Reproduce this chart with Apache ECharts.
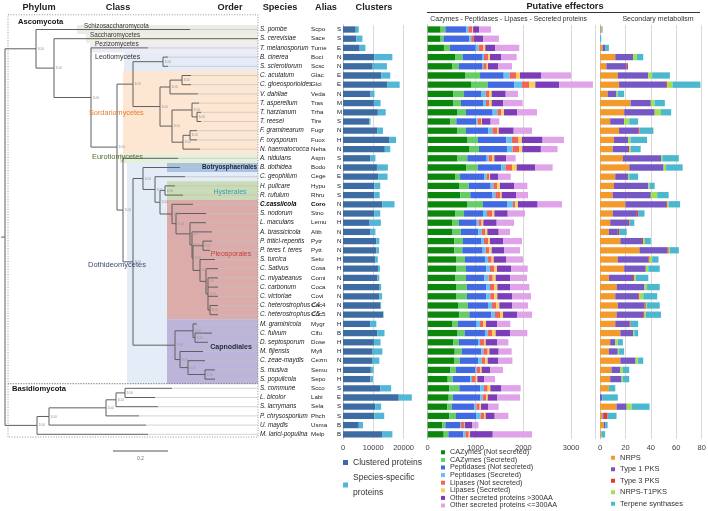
<!DOCTYPE html>
<html><head><meta charset="utf-8">
<script src="https://cdn.jsdelivr.net/npm/echarts@6/dist/echarts.min.js"></script>
<style>html,body{margin:0;padding:0;background:#fff}#c{width:708px;height:511px}</style>
</head><body><div id="c"></div>
<script>
// ---------------- data ----------------
const species = ['S. pombe','S. cerevisiae','T. melanosporum','B. cinerea','S. sclerotiorum','C. acutatum','C. gloeosporioides','V. dahliae','T. asperellum','T. harzianum','T. reesei','F. graminearum','F. oxysporum','N. haematococca','A. nidulans','B. dothidea','C. geophilum','H. pulicare','R. rufulum','C.cassiicola','S. nodorum','L. maculans','A. brassicicola','P. tritici-repentis','P. teres f. teres','S. turcica','C. Sativus','C. miyabeanus','C. carbonum','C. victoriae','C. heterostrophus C4','C. heterostrophus C5','M. graminicola','C. fulvum','D. septosporum','M. fijiensis','C. zeae-maydis','S. musiva','S. populicola','S. commune','L. bicolor','S. lacrymans','P. chrysosporium','U. maydis','M. larici-populina'];
const alias = ['Scpo','Sace','Tume','Boci','Scsc','Glac','Glci','Veda','Tras','Trha','Tire','Fugr','Fuox','Neha','Aspn','Bodo','Cege','Hypu','Rhru','Coro','Stno','Lemu','Altb','Pytr','Pytt','Setu','Cosa','Comi','Coca','Covi','Coc4','Coc5','Mygr','Clfu','Dose','Myfi','Cezm','Semu','Sepo','Scco','Labi','Sela','Phch','Usma','Melp'];
const lifestyle = ['S','S','E','N','N','E','E','N','M','M','S','N','H','N','S','N','E','S','S','N','N','H','N','N','N','H','H','N','N','N','N','N','H','B','H','H','N','H','H','S','E','S','S','B','B'];

const clustered = [4200,4400,5500,10300,9800,12600,14700,9100,10200,11500,8700,11400,15200,13800,9100,11200,11600,10300,10300,13000,10300,8800,9100,11000,11000,10700,11600,11300,12100,12000,12400,13200,9000,11300,10200,9800,9800,9200,9100,12300,18400,10700,10300,5200,12900];
const specific = [1000,2000,1900,6000,4700,3000,4000,1300,2200,2600,400,1800,2300,1800,1600,3600,3100,2000,1800,4000,2000,3700,1600,1000,900,800,600,700,500,900,200,200,2000,2400,2200,3200,2200,900,800,3600,4300,1900,3300,1400,3400];

const cazNS = [270,270,340,572,516,781,906,530,530,613,474,613,822,864,613,802,572,655,683,822,572,509,509,558,558,592,592,572,592,592,634,662,509,613,530,565,551,474,418,453,439,411,453,307,335];
const cazS = [100,60,125,160,139,314,349,230,167,188,125,188,230,209,216,244,105,202,209,335,188,146,181,181,167,188,209,230,230,230,209,209,125,160,125,146,118,118,105,209,91,91,139,63,98];
const pepNS = [440,540,540,404,481,495,558,355,460,558,418,467,592,585,404,495,509,460,460,502,397,369,369,376,425,418,425,383,404,404,418,460,390,425,397,411,390,397,369,439,572,474,418,307,314];
const pepS = [40,40,60,42,28,125,160,98,63,98,28,84,118,118,42,84,49,56,63,125,84,42,70,63,63,63,77,91,77,84,84,77,70,56,42,42,70,35,35,77,49,42,98,21,42];
const lipNS = [80,60,100,91,70,132,146,70,70,84,70,98,139,139,70,139,49,84,98,49,105,63,70,91,77,77,91,84,91,84,84,105,70,91,84,91,70,70,77,77,70,70,70,63,70];
const lipS = [20,0,40,35,28,84,132,56,49,56,21,35,70,63,49,98,21,56,35,56,49,35,49,35,49,42,56,63,63,63,70,63,56,77,35,35,56,35,35,56,35,28,35,14,28];
const otherLong = [125,190,210,237,216,439,502,293,244,272,181,314,432,390,251,390,167,300,307,411,279,279,237,272,258,258,293,300,272,307,272,293,237,300,244,195,223,174,139,223,202,146,188,160,474];
const otherShort = [250,330,500,321,286,627,704,258,404,418,181,383,446,349,195,362,265,272,244,509,362,362,237,397,335,355,349,355,397,397,328,314,272,362,230,272,293,272,230,411,474,223,286,125,822];

const nrps = [1,0,2,12,5,14,15,6,24,19,8,15,11,10,18,23,12,11,10,20,10,8,7,16,31,14,19,7,13,12,14,13,12,16,8,7,16,9,8,7,0,13,2,3,1];
const t1pks = [0,0,2,14,16,24,37,7,16,24,11,15,11,12,30,27,10,27,30,32,19,14,7,17,22,24,17,19,22,18,21,21,11,10,4,7,12,7,9,0,2,8,1,1,0];
const t3pks = [0,0,0,0,1,0,1,0,0,0,0,1,0,1,0,0,0,0,0,1,1,1,1,1,1,1,0,1,0,1,1,1,1,0,0,0,0,0,0,0,0,0,3,0,0];
const nrpsT1 = [0,0,0,3,0,3,4,1,3,5,4,0,2,1,1,2,1,1,5,1,0,0,0,1,1,2,2,1,2,3,1,1,0,1,2,1,2,2,1,0,0,4,0,0,0];
const terpene = [1,1,3,5,0,14,22,5,8,8,7,11,13,8,13,13,7,4,9,9,5,4,6,5,7,5,9,10,10,11,10,12,6,3,4,4,4,5,5,5,12,14,7,2,3];

const clusterNames = ['Clustered proteins','Species-specific proteins'];
const effNames = ['CAZymes (Not secreted)','CAZymes (Secreted)','Peptidases (Not secreted)','Peptidases (Secreted)','Lipases (Not secreted)','Lipases (Secreted)','Other secreted proteins >300AA','Other secreted proteins <=300AA'];
const smNames = ['NRPS','Type 1 PKS','Type 3 PKS','NRPS-T1PKS','Terpene synthases'];

// tree: N(depth, children...), L(alias, terminal branch end depth)
const N = (x, ...c) => ({x, c});
const L = (a, e) => ({a, e});
const tree =
N(5,
  N(36,
    L('Scpo', 190),
    N(54,
      L('Sace', 258),
      N(91,
        L('Tume', 148),
        N(117,
          N(133,
            N(163, L('Boci', 168), L('Scsc', 168)),
            N(160,
              N(170, N(182, L('Glac', 191), L('Glci', 191)), L('Veda', 198)),
              N(172,
                N(192, L('Tras', 199), N(197, L('Trha', 201), L('Tire', 201))),
                N(183, N(190, L('Fugr', 197), L('Fuox', 197)), L('Neha', 200))
              )
            )
          ),
          N(123,
            L('Aspn', 178),
            N(133,
              N(143,
                L('Bodo', 180),
                N(155,
                  L('Cege', 185),
                  N(160,
                    N(165, L('Hypu', 175), L('Rhru', 183)),
                    N(172,
                      L('Coro', 193),
                      N(176,
                        L('Stno', 206),
                        N(190,
                          L('Lemu', 206),
                          N(192,
                            L('Altb', 212),
                            N(193,
                              N(203, L('Pytr', 212), L('Pytt', 210)),
                              N(200,
                                L('Setu', 215),
                                N(206,
                                  L('Cosa', 218),
                                  N(208, L('Comi', 218), L('Coca', 218), L('Covi', 218),
                                    N(210, L('Coc4', 218), L('Coc5', 218)))
                                )
                              )
                            )
                          )
                        )
                      )
                    )
                  )
                )
              ),
              N(175,
                N(193, L('Mygr', 197), N(195, L('Clfu', 212), L('Dose', 208))),
                N(180, L('Myfi', 203), N(188, L('Cezm', 205), N(205, L('Semu', 215), L('Sepo', 215))))
              )
            )
          )
        )
      )
    )
  ),
  N(37,
    N(49,
      N(106,
        N(116, N(125, L('Scco', 172), L('Labi', 155)), L('Sela', 158)),
        L('Phch', 139)
      ),
      L('Usma', 146)
    ),
    L('Melp', 148)
  )
);

// taxon background bands (rows from..to, starting depth)
const bands = [
  {name:'Schizosaccharomycota', from:0, to:0, depth:77},
  {name:'Saccharomycetes', from:1, to:1, depth:86},
  {name:'Pezizomycetes', from:2, to:2, depth:90},
  {name:'Leotiomycetes', from:3, to:4, depth:124},
  {name:'Sordariomycetes', from:5, to:13, depth:123},
  {name:'Eurotiomycetes', from:14, to:14, depth:120},
  {name:'Dothideomycetes', from:15, to:38, depth:127},
  {name:'Botryosphaeriales', from:15, to:15, depth:167},
  {name:'Hysterales', from:17, to:18, depth:167},
  {name:'Pleosporales', from:19, to:31, depth:167},
  {name:'Capnodiales', from:32, to:38, depth:167}
];
const phyla = [
  {name:'Ascomycota', from:-1.6, to:38.5},
  {name:'Basidiomycota', from:38.5, to:44.3}
];

// ---------------- styles ----------------
const FONT = '"Liberation Sans", Arial, Helvetica, sans-serif';
const bandColors = ['#ececE7','#f1efe3','#ececf5','#e5ecf7','#fde7d3','#e6efda','#e4ecf7','#a8c2e2','#cadcb6','#dcacab','#bdb4da'];
const clusterColors = ['#3d6ca3','#52b6d6'];
const effColors = ['#0b870b','#66cc66','#4169e1','#66c2f2','#f0645a','#f8d060','#7b3db8','#e0a2e8'];
const smColors = ['#f39a2d','#7558c4','#e03b2d','#a2e052','#4cb8cf'];
const TOP = 24.9, ROW = 9.2, H = ROW * 45, TREE_END = 258;

// ---------------- tree layout ----------------
const rowOf = {}; alias.forEach((a, i) => rowOf[a] = i);
const segs = [], nodePts = [];
function layout(n) {
  if (n.a) { n.y = rowOf[n.a]; return; }
  n.c.forEach(layout);
  n.y = (n.c[0].y + n.c[n.c.length - 1].y) / 2;
}
function emit(n, isRoot) {
  if (n.a) { if (n.e < TREE_END) segs.push([n.e, n.y, TREE_END, n.y, 1]); return; }
  segs.push([n.x, n.c[0].y, n.x, n.c[n.c.length - 1].y, 0]);
  n.c.forEach(ch => { segs.push([n.x, ch.y, ch.a ? ch.e : ch.x, ch.y, 0]); emit(ch, false); });
  if (!isRoot) nodePts.push([n.x, n.y]);
}
layout(tree); emit(tree, true);
segs.push([1, tree.y, tree.x, tree.y, 0]);

// ---------------- chart ----------------
const chart = echarts.init(document.getElementById('c'));
const barBase = (name, data, color, xi, stack) => ({
  type:'bar', name, data, stack, xAxisIndex:xi, yAxisIndex:xi, barWidth:6.3,
  itemStyle:{color}, emphasis:{disabled:true}, animation:false
});
const valAxis = (gi, max, interval, maxLine, maxLabel) => ({
  gridIndex:gi, type:'value', min:0, max, interval,
  axisLine:{show:false}, axisTick:{show:false},
  splitLine:{show:true, showMinLine:false, showMaxLine:maxLine, lineStyle:{color:'#d9d9d9', width:1}},
  axisLabel:{fontFamily:FONT, fontSize:7.5, color:'#404040', margin:5, showMaxLabel:maxLabel, formatter:v => String(v)}
});
const catAxis = (gi, labels) => ({
  gridIndex:gi, type:'category', data:alias, inverse:true,
  axisTick:{show:false}, axisLine:{show:true, lineStyle:{color:'#c0c0c0', width:1}},
  axisLabel: labels ? {
    show:true, interval:0, align:'left', margin:83,
    formatter:(v, i) => { const b = i === 19 ? 'b' : ''; return `{sp${b}|${species[i]}}{al${b}|${alias[i]}}{lt|${lifestyle[i]}}`; },
    rich:{
      sp:{fontFamily:FONT, fontSize:6.3, fontStyle:'italic', color:'#1a1a1a', width:51},
      spb:{fontFamily:FONT, fontSize:6.3, fontStyle:'italic', fontWeight:'bold', color:'#000', width:51},
      al:{fontFamily:FONT, fontSize:6.2, color:'#1a1a1a', width:26},
      alb:{fontFamily:FONT, fontSize:6.2, fontWeight:'bold', color:'#000', width:26},
      lt:{fontFamily:FONT, fontSize:6.2, color:'#1a1a1a'}
    }
  } : {show:false}
});

const txt = (text, x, y, size, opts = {}) => ({
  type:'text', x, y, z:100, silent:true,
  style:Object.assign({text, fill:'#222', font:`${opts.weight || 'normal'} ${size}px ${FONT}`, align:opts.align || 'left', verticalAlign:'middle'}, opts.style || {})
});
const legendBase = {orient:'vertical', itemGap:0, icon:'rect', padding:0, height:80, selectedMode:false};

const option = {
  animation:false,
  backgroundColor:'#fff',
  grid:[
    {left:0, top:TOP, width:TREE_END, height:H, outerBoundsMode:'none'},
    {left:343, top:TOP, width:71.2, height:H, outerBoundsMode:'none'},
    {left:427.7, top:TOP, width:167.3, height:H, outerBoundsMode:'none'},
    {left:600, top:TOP, width:101.7, height:H, outerBoundsMode:'none'}
  ],
  xAxis:[
    {gridIndex:0, type:'value', min:0, max:TREE_END, show:false},
    valAxis(1, 23500, 10000, false, false),
    valAxis(2, 3500, 1000, true, false),
    valAxis(3, 80, 20, true, true)
  ],
  yAxis:[
    {gridIndex:0, type:'value', min:-0.5, max:44.5, inverse:true, show:false},
    catAxis(1, true), catAxis(2, false), catAxis(3, false)
  ],
  legend:[
    Object.assign({}, legendBase, {data:clusterNames, left:343, top:455, itemWidth:5, itemHeight:5,
     formatter:n => n === 'Species-specific proteins' ? 'Species-specific\nproteins' : n,
     textStyle:{fontFamily:FONT, fontSize:8.5, color:'#333', lineHeight:15}}),
    Object.assign({}, legendBase, {data:effNames, left:441, top:448.5, itemWidth:4, itemHeight:4,
     textStyle:{fontFamily:FONT, fontSize:7.2, color:'#333', lineHeight:7.6}}),
    Object.assign({}, legendBase, {data:smNames, left:611, top:452, itemWidth:4, itemHeight:4,
     textStyle:{fontFamily:FONT, fontSize:7.5, color:'#333', lineHeight:11.5}})
  ],
  series:[
    {type:'custom', name:'bands', xAxisIndex:0, yAxisIndex:0, z:1, silent:true, clip:false,
     data:bands.map((b, i) => [b.depth, b.from, b.to, i]),
     renderItem:(p, api) => {
       const a = api.coord([api.value(0), api.value(1) - 0.5]);
       const b = api.coord([TREE_END, api.value(2) + 0.5]);
       return {type:'rect', shape:{x:a[0], y:a[1], width:b[0] - a[0], height:b[1] - a[1]}, style:{fill:bandColors[api.value(3)]}};
     }},
    {type:'custom', name:'phyla', xAxisIndex:0, yAxisIndex:0, z:2, silent:true, clip:false,
     data:phyla.map(p => [8, p.from, TREE_END, p.to]),
     renderItem:(p, api) => {
       const a = api.coord([api.value(0), api.value(1)]);
       const b = api.coord([api.value(2), api.value(3)]);
       return {type:'rect', shape:{x:a[0], y:a[1], width:b[0] - a[0], height:b[1] - a[1]},
               style:{fill:'none', stroke:'#7a7a7a', lineWidth:0.8, lineDash:[1, 1.6]}};
     }},
    {type:'custom', name:'tree', xAxisIndex:0, yAxisIndex:0, z:3, silent:true, clip:false,
     data:segs,
     renderItem:(p, api) => {
       const a = api.coord([api.value(0), api.value(1)]);
       const b = api.coord([api.value(2), api.value(3)]);
       const leader = api.value(4) === 1;
       return {type:'line', shape:{x1:a[0], y1:a[1], x2:b[0], y2:b[1]},
               style:{stroke:leader ? '#c2c2c2' : '#5f5f5f', lineWidth:leader ? 0.7 : 1}};
     }},
    {type:'custom', name:'support', xAxisIndex:0, yAxisIndex:0, z:4, silent:true, clip:false,
     data:nodePts,
     renderItem:(p, api) => {
       const a = api.coord([api.value(0), api.value(1)]);
       return {type:'text', x:a[0] + 1.5, y:a[1], style:{text:'100', fontSize:3.8, fontFamily:FONT, fill:'#9a9a9a', verticalAlign:'middle'}};
     }},
    barBase(clusterNames[0], clustered, clusterColors[0], 1, 'cl'),
    barBase(clusterNames[1], specific, clusterColors[1], 1, 'cl'),
    ...[cazNS, cazS, pepNS, pepS, lipNS, lipS, otherLong, otherShort].map((d, i) => barBase(effNames[i], d, effColors[i], 2, 'eff')),
    ...[nrps, t1pks, t3pks, nrpsT1, terpene].map((d, i) => barBase(smNames[i], d, smColors[i], 3, 'sm'))
  ],
  graphic:[
    txt('Phylum', 39, 7.5, 9.2, {weight:'bold', align:'center'}),
    txt('Class', 118, 7.5, 9.2, {weight:'bold', align:'center'}),
    txt('Order', 230, 7.5, 9.2, {weight:'bold', align:'center'}),
    txt('Species', 280, 7.5, 9.2, {weight:'bold', align:'center'}),
    txt('Alias', 326, 7.5, 9.2, {weight:'bold', align:'center'}),
    txt('Clusters', 374, 7.5, 9.2, {weight:'bold', align:'center'}),
    txt('Putative effectors', 565, 6.5, 9.2, {weight:'bold', align:'center'}),
    {type:'line', z:100, silent:true, shape:{x1:427, y1:12.5, x2:700, y2:12.5}, style:{stroke:'#333', lineWidth:1}},
    txt('Cazymes - Peptidases - Lipases - Secreted proteins', 587, 19, 6.8, {align:'right', style:{fill:'#333'}}),
    txt('Secondary metabolism', 658, 19, 7, {align:'center', style:{fill:'#333'}}),
    txt('Ascomycota', 18, 22, 7.6, {weight:'bold', style:{fill:'#111'}}),
    txt('Schizosaccharomycota', 84, 26, 6.3, {style:{fill:'#333'}}),
    txt('Saccharomycetes', 90, 35.5, 6.3, {style:{fill:'#333'}}),
    txt('Pezizomycetes', 95, 44.3, 6.5, {style:{fill:'#333'}}),
    txt('Leotiomycetes', 95, 57.3, 7, {style:{fill:'#333'}}),
    txt('Sordariomycetes', 89, 112.7, 7.3, {style:{fill:'#e67a2e'}}),
    txt('Eurotiomycetes', 92, 156.7, 7.4, {style:{fill:'#4d6b2e'}}),
    txt('Dothideomycetes', 88, 265, 7.5, {style:{fill:'#3b4c6b'}}),
    txt('Botryosphaeriales', 257, 167.5, 6.3, {weight:'bold', align:'right', style:{fill:'#1a2535'}}),
    txt('Hysterales', 230, 191.7, 7, {align:'center', style:{fill:'#3aa0b0'}}),
    txt('Pleosporales', 231, 254, 7, {align:'center', style:{fill:'#cc3b3b'}}),
    txt('Capnodiales', 231, 346.7, 7, {weight:'bold', align:'center', style:{fill:'#1f2a44'}}),
    txt('Basidiomycota', 12, 389.3, 7.6, {weight:'bold', style:{fill:'#111'}}),
    {type:'line', z:100, silent:true, shape:{x1:113, y1:451, x2:168, y2:451}, style:{stroke:'#555', lineWidth:1}},
    txt('0.2', 140.5, 458.5, 4.5, {align:'center', style:{fill:'#666'}})
  ]
};
chart.setOption(option);
</script>
</body></html>
